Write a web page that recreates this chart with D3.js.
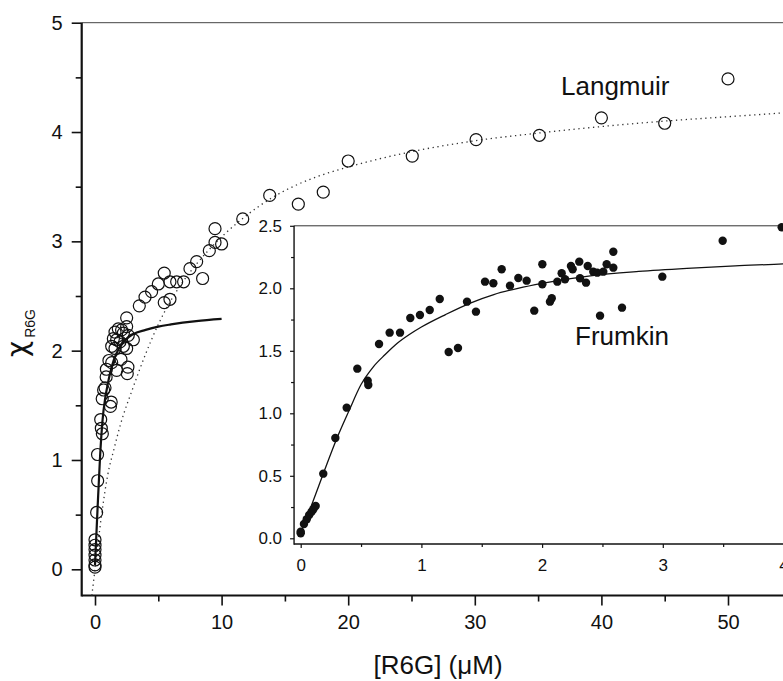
<!DOCTYPE html>
<html>
<head>
<meta charset="utf-8">
<script src="https://cdn.jsdelivr.net/npm/d3@7/dist/d3.min.js"></script>
<style>
  body { margin: 0; background: #fff; }
  text { font-family: "Liberation Sans", Arial, Helvetica, sans-serif; fill: #111; }
</style>
</head>
<body>
<div id="chart"></div>
<script>
const width = 783;
const height = 681;

// main panel: Langmuir data (open circles)
const langX = [0, 0, 0, 0, 0, 0, 0, 0.13, 0.21, 0.2, 0.45, 0.5, 0.58, 0.57, 0.68, 0.79,
  1.28, 1.22, 0.9, 0.88, 1.1, 1.32, 2.05, 2.6, 2.55, 1.71, 1.32, 1.58, 2.24, 2.5,
  1.45, 1.71, 1.97, 3.03, 2.24, 2.63, 1.84, 2.1, 1.58, 2.5, 2.5, 3.5, 3.95, 4.47,
  5.0, 5.47, 5.92, 5.47, 5.92, 6.45, 7.0, 7.5, 8.03, 8.5, 9.03, 9.48, 10.0, 9.48,
  11.67, 13.8, 16.06, 18.03, 20.0, 25.06, 30.1, 35.1, 40.0, 45.0, 50.0];
const langY = [0.02, 0.04, 0.085, 0.13, 0.18, 0.22, 0.27, 0.52, 0.81, 1.05, 1.37, 1.29, 1.24, 1.56, 1.64, 1.66,
  1.53, 1.49, 1.83, 1.76, 1.91, 1.89, 1.92, 1.85, 1.79, 1.82, 2.04, 2.02, 2.04, 2.02,
  2.11, 2.10, 2.08, 2.10, 2.16, 2.14, 2.20, 2.19, 2.17, 2.22, 2.30, 2.41, 2.49, 2.54,
  2.61, 2.44, 2.47, 2.71, 2.63, 2.63, 2.63, 2.75, 2.815, 2.66, 2.915, 2.99, 2.976, 3.116,
  3.205, 3.42, 3.34, 3.45, 3.735, 3.78, 3.93, 3.97, 4.13, 4.08, 4.486];

// Langmuir fit (dotted)
const langFitX = [-0.25, 0, 0.5, 1, 1.5, 2, 3, 4, 5, 6, 7, 8, 10, 12, 14, 16, 18, 20, 25, 30, 35, 40, 45, 50, 55];
const langFitY = [-0.24, 0, 0.48, 0.86, 1.1, 1.32, 1.66, 1.97, 2.24, 2.46, 2.64, 2.79, 3.04, 3.24, 3.40, 3.52, 3.61, 3.68, 3.82, 3.92, 3.99, 4.05, 4.10, 4.14, 4.18];

// Frumkin fit in main panel (solid)
const frumMainX = [0, 0.2, 0.4, 0.6, 0.8, 1.0, 1.5, 2, 3, 4, 5, 6, 8, 10];
const frumMainY = [0.04, 0.55, 1.03, 1.37, 1.56, 1.69, 1.92, 2.04, 2.15, 2.19, 2.22, 2.24, 2.27, 2.29];

// inset: Frumkin data (filled dots)
const frumX = [0.0, 0.0, 0.027, 0.05, 0.07, 0.09, 0.105, 0.124, 0.187, 0.287, 0.381, 0.469, 0.555, 0.56,
  0.649, 0.737, 0.823, 0.908, 0.988, 1.069, 1.152, 1.226, 1.303, 1.378, 1.452, 1.527, 1.596,
  1.665, 1.734, 1.803, 1.872, 1.935, 2.002, 2.002, 2.065, 2.08, 2.126, 2.162, 2.19, 2.239,
  2.253, 2.308, 2.314, 2.364, 2.378, 2.424, 2.457, 2.48, 2.507, 2.535, 2.59, 2.59, 2.662,
  2.996, 3.496, 3.985];
const frumY = [0.04, 0.053, 0.114, 0.152, 0.186, 0.213, 0.232, 0.258, 0.517, 0.802, 1.045, 1.357, 1.261, 1.226,
  1.554, 1.645, 1.645, 1.762, 1.786, 1.826, 1.914, 1.49, 1.522, 1.893, 1.813, 2.053, 2.04,
  2.152, 2.021, 2.082, 2.061, 1.821, 2.192, 2.032, 1.893, 1.92, 2.053, 2.12, 2.072, 2.178,
  2.152, 2.213, 2.08, 2.045, 2.178, 2.133, 2.125, 1.781, 2.133, 2.192, 2.293, 2.165, 1.845,
  2.093, 2.381, 2.488];

// inset: Frumkin fit (solid)
const frumFitX = [0, 0.1, 0.2, 0.3, 0.4, 0.5, 0.6, 0.7, 0.8, 0.9, 1.0, 1.2, 1.4, 1.6, 1.8, 2.0, 2.4, 2.8, 3.2, 3.6, 4.0, 4.1];
const frumFitY = [0.04, 0.29, 0.55, 0.80, 1.02, 1.23, 1.37, 1.47, 1.56, 1.63, 1.69, 1.79, 1.88, 1.95, 2.00, 2.04, 2.10, 2.135, 2.16, 2.18, 2.195, 2.2];

const mainXTicks = [0, 10, 20, 30, 40, 50];
const mainXMinor = [5, 15, 25, 35, 45, 55];
const mainYTicks = [0, 1, 2, 3, 4, 5];
const mainYMinor = [0.5, 1.5, 2.5, 3.5, 4.5];
const insetXTicks = [0, 1, 2, 3, 4];
const insetXMinor = [0.5, 1.5, 2.5, 3.5];
const insetYTicks = [0, 0.5, 1, 1.5, 2, 2.5];
const insetYMinor = [0.25, 0.75, 1.25, 1.75, 2.25];

const svg = d3.select('#chart')
  .append('svg')
  .attr('width', width)
  .attr('height', height);

svg.append('rect').attr('width', width).attr('height', height).attr('fill', '#fff');

// main scales
const x = d3.scaleLinear().domain([0, 50]).range([95, 728]);
const y = d3.scaleLinear().domain([0, 5]).range([569.3, 22.7]);
const mLeft = x(-1.05), mBottom = y(-0.24), mTop = y(5);

function pairs(xs, ys) {
  return xs.map(function(v, i) { return [v, ys[i]]; });
}

// main frame
svg.append('line')
  .attr('x1', mLeft).attr('x2', width + 10).attr('y1', mTop).attr('y2', mTop)
  .attr('stroke', '#444').attr('stroke-width', 1);

const gx = svg.append('g').attr('transform', 'translate(0,' + mBottom + ')');
gx.call(d3.axisBottom(x).tickValues(mainXTicks).tickSize(10).tickPadding(9).tickFormat(d3.format('d')));
gx.append('g').call(d3.axisBottom(x).tickValues(mainXMinor).tickSize(6).tickFormat(''));

const gy = svg.append('g').attr('transform', 'translate(' + mLeft + ',0)');
gy.call(d3.axisLeft(y).tickValues(mainYTicks).tickSize(10).tickPadding(9).tickFormat(d3.format('d')));
gy.append('g').call(d3.axisLeft(y).tickValues(mainYMinor).tickSize(6).tickFormat(''));

[gx, gy].forEach(function(g) {
  g.selectAll('.domain').remove();
  g.selectAll('.tick line').attr('stroke', '#111').attr('stroke-width', 1.6);
  g.selectAll('.tick text').style('font-size', '20px').attr('fill', '#111');
});

svg.append('line')
  .attr('x1', mLeft).attr('x2', width + 10).attr('y1', mBottom).attr('y2', mBottom)
  .attr('stroke', '#111').attr('stroke-width', 2);
svg.append('line')
  .attr('x1', mLeft).attr('x2', mLeft).attr('y1', mTop).attr('y2', mBottom + 1)
  .attr('stroke', '#111').attr('stroke-width', 2.2);

const lineMain = d3.line()
  .x(function(d) { return x(d[0]); })
  .y(function(d) { return y(d[1]); })
  .curve(d3.curveMonotoneX);

// Langmuir fit, dotted
svg.append('path')
  .attr('d', lineMain(pairs(langFitX, langFitY)))
  .attr('fill', 'none')
  .attr('stroke', '#333')
  .attr('stroke-width', 1.3)
  .attr('stroke-dasharray', '1.3,3.6');

// Langmuir points
svg.append('g').selectAll('circle')
  .data(pairs(langX, langY))
  .join('circle')
  .attr('cx', function(d) { return x(d[0]); })
  .attr('cy', function(d) { return y(d[1]); })
  .attr('r', 6)
  .attr('fill', 'none')
  .attr('stroke', '#111')
  .attr('stroke-width', 1.2);

// Frumkin fit in main panel
svg.append('path')
  .attr('d', lineMain(pairs(frumMainX, frumMainY)))
  .attr('fill', 'none')
  .attr('stroke', '#111')
  .attr('stroke-width', 2.2);

svg.append('text')
  .attr('x', 561).attr('y', 95)
  .style('font-size', '26px')
  .text('Langmuir');

// axis titles
svg.append('text')
  .attr('x', 438).attr('y', 674)
  .attr('text-anchor', 'middle')
  .style('font-size', '26px')
  .text('[R6G] (\u03BCM)');

const yl = svg.append('text')
  .attr('transform', 'translate(27,357) rotate(-90)')
  .style('font-size', '28px');
yl.append('tspan').style('font-family', '"DejaVu Sans", sans-serif').text('\u03C7');
yl.append('tspan').attr('dx', 3).attr('dy', 8).style('font-size', '14px').text('R6G');

// ---- inset ----
const xi = d3.scaleLinear().domain([0, 4]).range([300.7, 783.5]);
const yi = d3.scaleLinear().domain([0, 2.5]).range([538.3, 225.8]);
const iLeft = xi(-0.055), iBottom = yi(-0.045), iTop = yi(2.5);

svg.append('rect')
  .attr('x', iLeft).attr('y', iTop)
  .attr('width', width - iLeft + 10).attr('height', iBottom - iTop)
  .attr('fill', '#fff');

svg.append('line')
  .attr('x1', iLeft).attr('x2', width + 10).attr('y1', iTop).attr('y2', iTop)
  .attr('stroke', '#333').attr('stroke-width', 1);

const gxi = svg.append('g').attr('transform', 'translate(0,' + iBottom + ')');
gxi.call(d3.axisBottom(xi).tickValues(insetXTicks).tickSize(4).tickPadding(11).tickFormat(d3.format('d')));
gxi.append('g').call(d3.axisBottom(xi).tickValues(insetXMinor).tickSize(3).tickFormat(''));

const gyi = svg.append('g').attr('transform', 'translate(' + iLeft + ',0)');
gyi.call(d3.axisLeft(yi).tickValues(insetYTicks).tickSize(4).tickPadding(8).tickFormat(d3.format('.1f')));
gyi.append('g').call(d3.axisLeft(yi).tickValues(insetYMinor).tickSize(3).tickFormat(''));

[gxi, gyi].forEach(function(g) {
  g.selectAll('.domain').remove();
  g.selectAll('.tick line').attr('stroke', '#111').attr('stroke-width', 1.2);
  g.selectAll('.tick text').style('font-size', '17px').attr('fill', '#111');
});

svg.append('line')
  .attr('x1', iLeft).attr('x2', width + 10).attr('y1', iBottom).attr('y2', iBottom)
  .attr('stroke', '#111').attr('stroke-width', 1.4);
svg.append('line')
  .attr('x1', iLeft).attr('x2', iLeft).attr('y1', iTop).attr('y2', iBottom + 0.7)
  .attr('stroke', '#111').attr('stroke-width', 1.4);

const lineInset = d3.line()
  .x(function(d) { return xi(d[0]); })
  .y(function(d) { return yi(d[1]); })
  .curve(d3.curveMonotoneX);

svg.append('path')
  .attr('d', lineInset(pairs(frumFitX, frumFitY)))
  .attr('fill', 'none')
  .attr('stroke', '#111')
  .attr('stroke-width', 1.3);

svg.append('g').selectAll('circle')
  .data(pairs(frumX, frumY))
  .join('circle')
  .attr('cx', function(d) { return xi(d[0]); })
  .attr('cy', function(d) { return yi(d[1]); })
  .attr('r', 4.2)
  .attr('fill', '#111');

svg.append('text')
  .attr('x', 575).attr('y', 345)
  .style('font-size', '26px')
  .text('Frumkin');
</script>
</body>
</html>
